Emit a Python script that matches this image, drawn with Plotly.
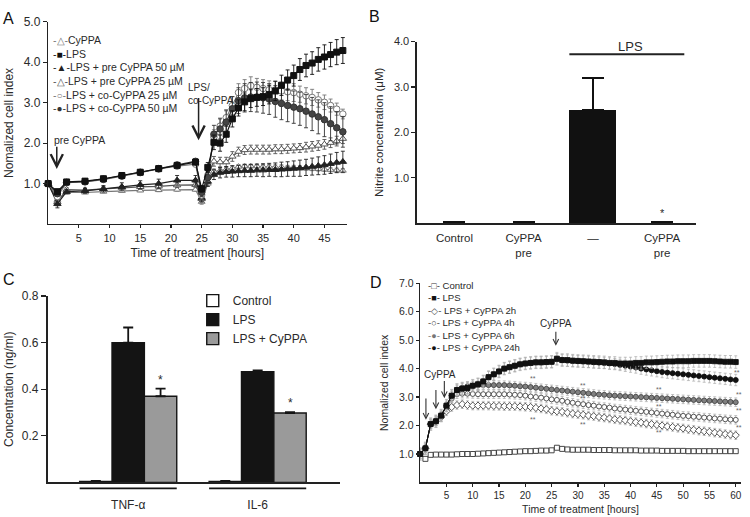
import plotly.graph_objects as go

# ======================= DATA =======================
# ---- Panel A: real-time cell index (0-48 h) ----
times_a = [0, 1.5, 3, 6, 9, 12, 15, 18, 21, 24, 25, 26, 27, 28, 29, 30, 31, 32, 33, 34,
           35, 36, 37, 38, 39, 40, 41, 42, 43, 44, 45, 46, 47, 48]
a_cyppa = [1.0, 0.6, 0.78, 0.78, 0.8, 0.82, 0.83, 0.84, 0.85, 0.85,
           0.55, 1.0, 1.3, 1.32, 1.35, 1.38, 1.42, 1.43, 1.43, 1.43,
           1.42, 1.42, 1.41, 1.41, 1.4, 1.4, 1.39, 1.38, 1.37, 1.36,
           1.35, 1.34, 1.33, 1.32]
a_lps = [1.0, 0.8, 1.04, 1.06, 1.12, 1.2, 1.28, 1.37, 1.45, 1.53,
         0.87, 1.4, 2.02, 2.0, 2.22, 2.6, 2.87, 3.02, 3.1, 3.13,
         3.15, 3.2, 3.29, 3.43, 3.56, 3.67, 3.82, 3.92, 3.98, 4.07,
         4.13, 4.19, 4.25, 4.29]
a_pre50 = [1.0, 0.5, 0.8, 0.82, 0.87, 0.92, 0.97, 1.0, 1.08, 1.08,
           0.65, 1.05, 1.22, 1.27, 1.29, 1.3, 1.31, 1.32, 1.32, 1.33,
           1.33, 1.34, 1.34, 1.35, 1.36, 1.37, 1.38, 1.4, 1.42, 1.44,
           1.46, 1.49, 1.52, 1.54]
a_pre25 = [1.0, 0.55, 0.85, 0.84, 0.87, 0.9, 0.92, 0.93, 0.96, 0.97,
           0.62, 1.2, 1.55, 1.53, 1.53, 1.67, 1.79, 1.83, 1.84, 1.84,
           1.84, 1.84, 1.85, 1.85, 1.86, 1.87, 1.88, 1.9, 1.92, 1.94,
           1.97, 2.01, 2.05, 2.11]
a_co25 = [1.0, 0.68, 1.02, 1.04, 1.1, 1.18, 1.27, 1.36, 1.43, 1.48,
          0.72, 1.2, 2.15, 2.42, 2.63, 2.93, 3.25, 3.35, 3.42, 3.38,
          3.35, 3.32, 3.31, 3.29, 3.27, 3.25, 3.21, 3.17, 3.13, 3.07,
          3.01, 2.93, 2.84, 2.72]
a_co50 = [1.0, 0.75, 1.03, 1.05, 1.11, 1.19, 1.28, 1.37, 1.46, 1.55,
          0.78, 1.15, 2.22, 2.35, 2.52, 2.85, 3.05, 3.12, 3.14, 3.14,
          3.12, 3.09, 3.03, 2.98, 2.93, 2.89, 2.85, 2.79, 2.72, 2.65,
          2.58, 2.48, 2.38, 2.28]
e_cyppa = [0.02, 0.06, 0.03, 0.03, 0.03, 0.03, 0.03, 0.04, 0.04, 0.04,
           0.06, 0.06, 0.06, 0.06, 0.06, 0.06, 0.05, 0.05, 0.05, 0.05,
           0.05, 0.05, 0.05, 0.05, 0.05, 0.05, 0.05, 0.05, 0.05, 0.05,
           0.05, 0.05, 0.05, 0.05]
e_lps = [0.02, 0.05, 0.03, 0.03, 0.04, 0.04, 0.04, 0.05, 0.05, 0.06,
         0.08, 0.12, 0.18, 0.2, 0.2, 0.2, 0.2, 0.22, 0.22, 0.22,
         0.22, 0.23, 0.24, 0.25, 0.25, 0.26, 0.27, 0.28, 0.28, 0.29,
         0.3, 0.3, 0.31, 0.32]
e_pre50 = [0.02, 0.1, 0.05, 0.06, 0.08, 0.1, 0.1, 0.11, 0.12, 0.12,
           0.1, 0.12, 0.12, 0.13, 0.13, 0.14, 0.14, 0.15, 0.15, 0.15,
           0.16, 0.16, 0.17, 0.18, 0.18, 0.19, 0.2, 0.2, 0.21, 0.22,
           0.23, 0.24, 0.25, 0.26]
e_pre25 = [0.02, 0.1, 0.05, 0.05, 0.05, 0.05, 0.06, 0.06, 0.06, 0.06,
           0.08, 0.12, 0.12, 0.12, 0.12, 0.12, 0.11, 0.11, 0.11, 0.11,
           0.11, 0.11, 0.11, 0.11, 0.11, 0.11, 0.11, 0.12, 0.12, 0.12,
           0.12, 0.12, 0.12, 0.12]
e_co25 = [0.02, 0.05, 0.03, 0.03, 0.04, 0.04, 0.04, 0.05, 0.05, 0.06,
          0.1, 0.15, 0.18, 0.2, 0.2, 0.22, 0.22, 0.22, 0.22, 0.22,
          0.22, 0.22, 0.22, 0.22, 0.22, 0.22, 0.2, 0.2, 0.2, 0.18,
          0.18, 0.16, 0.15, 0.12]
e_co50 = [0.02, 0.05, 0.03, 0.03, 0.04, 0.04, 0.04, 0.05, 0.05, 0.06,
          0.1, 0.15, 0.22, 0.25, 0.28, 0.3, 0.32, 0.35, 0.36, 0.37,
          0.38, 0.38, 0.39, 0.4, 0.4, 0.4, 0.41, 0.41, 0.41, 0.42,
          0.42, 0.42, 0.4, 0.38]
a_names = ["CyPPA", "LPS", "LPS + pre CyPPA 50 µM", "LPS + pre CyPPA 25 µM",
           "LPS + co-CyPPA 25 µM", "LPS + co-CyPPA 50 µM"]
a_xticks = [5, 10, 15, 20, 25, 30, 35, 40, 45]
a_yticks = [1, 2, 3, 4, 5]

# ---- Panel B: nitrite ----
b_categories = ["Control", "CyPPA<br>pre", "—", "CyPPA<br>pre"]
b_nitrite = [0.01, 0.01, 2.5, 0.01]
b_nitrite_err = [0.01, 0.01, 0.7, 0.01]
b_yticks = [1, 2, 3, 4]

# ---- Panel C: cytokines ----
c_cytokines = ["TNF-α", "IL-6"]
c_groups = ["Control", "LPS", "LPS + CyPPA"]
c_control = [0.004, 0.004]
c_lps = [0.60, 0.475]
c_lps_cyppa = [0.37, 0.298]
c_control_err = [0.003, 0.003]
c_lps_err = [0.065, 0.006]
c_lps_cyppa_err = [0.033, 0.004]
c_yticks = [0.2, 0.4, 0.6, 0.8]

# ---- Panel D: real-time cell index (0-60 h) ----
times_d = list(range(0, 61))
d_control = [1.0, 0.83, 0.97, 0.98, 0.98, 0.98, 0.98, 0.99, 1.0, 1.0,
             1.0, 1.01, 1.02, 1.03, 1.04, 1.05, 1.06, 1.07, 1.08, 1.09,
             1.1, 1.1, 1.11, 1.12, 1.12, 1.13, 1.22, 1.18, 1.16, 1.15,
             1.15, 1.15, 1.15, 1.14, 1.14, 1.14, 1.14, 1.13, 1.13, 1.13,
             1.13, 1.13, 1.12, 1.12, 1.12, 1.12, 1.11, 1.11, 1.11, 1.11,
             1.11, 1.1, 1.1, 1.1, 1.1, 1.1, 1.1, 1.1, 1.1, 1.1,
             1.1]
d_lps = [1.0, 1.2, 2.05, 2.15, 2.35, 2.7, 3.05, 3.25, 3.3, 3.32,
         3.4, 3.45, 3.55, 3.7, 3.8, 3.9, 4.0, 4.05, 4.1, 4.15,
         4.18, 4.2, 4.22, 4.22, 4.23, 4.24, 4.35, 4.3, 4.3, 4.28,
         4.27, 4.26, 4.25, 4.24, 4.23, 4.22, 4.2, 4.2, 4.18, 4.18,
         4.18, 4.2, 4.2, 4.22, 4.22, 4.23, 4.24, 4.25, 4.25, 4.26,
         4.26, 4.26, 4.27, 4.27, 4.27, 4.27, 4.26, 4.25, 4.24, 4.24,
         4.23]
d_2h = [1.0, 1.2, 2.05, 2.15, 2.3, 2.5, 2.65, 2.72, 2.75, 2.72,
        2.7, 2.7, 2.7, 2.7, 2.69, 2.69, 2.68, 2.68, 2.68, 2.67,
        2.66, 2.65, 2.62, 2.6, 2.57, 2.52, 2.5, 2.48, 2.45, 2.42,
        2.4, 2.38, 2.35, 2.33, 2.3, 2.28, 2.25, 2.22, 2.2, 2.18,
        2.15, 2.12, 2.1, 2.07, 2.05, 2.02, 2.0, 1.97, 1.95, 1.92,
        1.9, 1.87, 1.85, 1.82, 1.8, 1.78, 1.75, 1.73, 1.7, 1.68,
        1.66]
d_4h = [1.0, 1.2, 2.05, 2.15, 2.35, 2.65, 2.95, 3.1, 3.12, 3.12,
        3.11, 3.1, 3.1, 3.1, 3.1, 3.1, 3.1, 3.09, 3.08, 3.07,
        3.05, 3.02, 3.0, 2.98, 2.95, 2.92, 2.9, 2.87, 2.83, 2.8,
        2.77, 2.75, 2.72, 2.7, 2.67, 2.65, 2.63, 2.6, 2.58, 2.56,
        2.54, 2.52, 2.5, 2.48, 2.46, 2.44, 2.42, 2.4, 2.38, 2.36,
        2.34, 2.33, 2.31, 2.3, 2.28, 2.27, 2.25, 2.24, 2.22, 2.21,
        2.2]
d_6h = [1.0, 1.2, 2.05, 2.15, 2.35, 2.7, 3.05, 3.25, 3.32, 3.38,
        3.4, 3.42, 3.42, 3.42, 3.42, 3.42, 3.42, 3.41, 3.4, 3.38,
        3.37, 3.35, 3.33, 3.31, 3.29, 3.27, 3.25, 3.23, 3.21, 3.19,
        3.17, 3.15, 3.13, 3.11, 3.09, 3.08, 3.06, 3.05, 3.04, 3.03,
        3.02, 3.01, 3.0, 2.99, 2.98, 2.97, 2.96, 2.95, 2.94, 2.93,
        2.92, 2.91, 2.9, 2.89, 2.88, 2.87, 2.86, 2.85, 2.84, 2.83,
        2.82]
d_24h = [1.0, 1.2, 2.05, 2.15, 2.35, 2.7, 3.05, 3.25, 3.3, 3.32,
         3.4, 3.45, 3.55, 3.7, 3.8, 3.9, 4.0, 4.05, 4.1, 4.15,
         4.18, 4.2, 4.22, 4.22, 4.23, 4.24, 4.33, 4.3, 4.28, 4.27,
         4.26, 4.25, 4.24, 4.22, 4.21, 4.2, 4.18, 4.16, 4.13, 4.1,
         4.07, 4.04, 4.0, 3.97, 3.94, 3.91, 3.88, 3.86, 3.84, 3.82,
         3.8, 3.78, 3.76, 3.74, 3.72, 3.7, 3.68, 3.66, 3.64, 3.62,
         3.6]
d_err_control = 0.03
d_err_lps = 0.22
d_err_2h = 0.15
d_err_4h = 0.15
d_err_6h = 0.15
d_err_24h = 0.2
d_names = ["Control", "LPS", "LPS + CyPPA 2h", "LPS + CyPPA 4h",
           "LPS + CyPPA 6h", "LPS + CyPPA 24h"]
d_xticks = [5, 10, 15, 20, 25, 30, 35, 40, 45, 50, 55, 60]
d_yticks = [1, 2, 3, 4, 5, 6, 7]

# ======================= STYLE / LAYOUT HELPERS =======================
W, H = 750, 517
FONT = "Arial, Liberation Sans, Helvetica, sans-serif"
TXT = "#2a2a2a"


def px_x(p):
    return p / W


def px_y(p):
    return 1 - p / H


def axis(**kw):
    base = dict(showline=True, linecolor="#222", linewidth=1.4, ticks="outside",
                ticklen=4, tickwidth=1.2, tickcolor="#222", showgrid=False,
                zeroline=False, fixedrange=True,
                tickfont=dict(size=11, color=TXT, family=FONT))
    base.update(kw)
    return base


fig = go.Figure()

# ---------------- Panel A traces ----------------
a_series = [
    (a_names[0], a_cyppa, e_cyppa, "triangle-up", "white", "#777", 6),
    (a_names[3], a_pre25, e_pre25, "triangle-up", "white", "#555", 6.5),
    (a_names[2], a_pre50, e_pre50, "triangle-up", "#222", "#222", 6.5),
    (a_names[4], a_co25, e_co25, "circle", "white", "#777", 6.5),
    (a_names[5], a_co50, e_co50, "circle", "#444", "#333", 6.5),
    (a_names[1], a_lps, e_lps, "square", "#111", "#111", 6),
]
for name, ys, es, sym, fill, col, size in a_series:
    fig.add_trace(go.Scatter(
        x=times_a, y=ys, name=name, mode="lines+markers", xaxis="x", yaxis="y",
        line=dict(color=col, width=1.2),
        marker=dict(symbol=sym, size=size, color=fill, line=dict(color=col, width=1)),
        error_y=dict(type="data", array=es, color=col, thickness=0.9, width=2),
        cliponaxis=False, showlegend=False))

# ---------------- Panel B traces ----------------
b_pos = list(range(len(b_categories)))
fig.add_trace(go.Bar(
    x=b_pos, y=b_nitrite, width=0.68, xaxis="x2", yaxis="y2", name="Nitrite",
    marker=dict(color="#111", line=dict(width=0)),
    error_y=dict(type="data", array=b_nitrite_err, arrayminus=[0] * len(b_pos),
                 symmetric=False, color="#111", thickness=1.6, width=11),
    showlegend=False))

# ---------------- Panel C traces ----------------
c_series = [
    (c_groups[0], c_control, c_control_err, "white"),
    (c_groups[1], c_lps, c_lps_err, "#141414"),
    (c_groups[2], c_lps_cyppa, c_lps_cyppa_err, "#9a9a9a"),
]
for i, (name, vals, errs, fill) in enumerate(c_series):
    xs = [g * 4 + i for g in range(len(c_cytokines))]
    fig.add_trace(go.Bar(
        x=xs, y=vals, width=1.0, name=name, xaxis="x3", yaxis="y3",
        marker=dict(color=fill, line=dict(color="#141414", width=1.4)),
        error_y=dict(type="data", array=errs, arrayminus=[0] * len(vals),
                     symmetric=False, color="#141414", thickness=1.8, width=5),
        showlegend=True, legend="legend"))

# ---------------- Panel D traces ----------------
d_series = [
    (d_names[0], d_control, d_err_control, "square", "white", "#333", 5),
    (d_names[2], d_2h, d_err_2h, "diamond", "white", "#444", 5.5),
    (d_names[3], d_4h, d_err_4h, "circle", "white", "#444", 5),
    (d_names[4], d_6h, d_err_6h, "circle", "#808080", "#444", 5),
    (d_names[5], d_24h, d_err_24h, "circle", "#111", "#111", 5),
    (d_names[1], d_lps, d_err_lps, "square", "#111", "#111", 5),
]
for name, ys, err, sym, fill, col, size in d_series:
    fig.add_trace(go.Scatter(
        x=times_d, y=ys, name=name, mode="lines+markers", xaxis="x4", yaxis="y4",
        line=dict(color=col, width=1),
        marker=dict(symbol=sym, size=size, color=fill, line=dict(color=col, width=0.9)),
        error_y=dict(type="constant", value=err, color="#aaaaaa", thickness=0.7, width=1.5),
        cliponaxis=False, showlegend=False))

# ======================= ANNOTATIONS =======================
ann = []


def letter(t, x, y):
    ann.append(dict(text=t, x=px_x(x), y=px_y(y), xref="paper", yref="paper",
                    xanchor="center", yanchor="middle", showarrow=False,
                    font=dict(size=16, color="#111", family=FONT)))


letter("A", 9, 12)
letter("B", 375, 10)
letter("C", 9, 276)
letter("D", 377, 279)

# --- Panel A in-plot legend (text) ---
a_glyph = {a_names[0]: ("△", "#777"), a_names[1]: ("■", "#111"),
           a_names[2]: ("▲", "#222"), a_names[3]: ("△", "#555"),
           a_names[4]: ("○", "#777"), a_names[5]: ("●", "#333")}
a_leg = "<br>".join(
    f'<span style="color:{a_glyph[n][1]}">-<span style="font-size:10px">{a_glyph[n][0]}</span>-</span>{n}'
    for n in a_names)
ann.append(dict(text=a_leg, x=px_x(51), y=px_y(25), xref="paper", yref="paper",
                xanchor="left", yanchor="top", align="left", showarrow=False,
                font=dict(size=10.5, color=TXT, family=FONT)))

# --- Panel A arrows + labels ---
ann.append(dict(text="pre CyPPA", x=0.6, y=2.07, xref="x", yref="y", xanchor="left",
                yanchor="middle", showarrow=False, font=dict(size=10.5, color=TXT, family=FONT)))
ann.append(dict(text="", x=1.4, y=1.36, ax=1.4, ay=1.95, xref="x", yref="y",
                axref="x", ayref="y", showarrow=True, arrowhead=5, arrowsize=1.6,
                arrowwidth=1.5, arrowcolor="#222"))
ann.append(dict(text="LPS/<br>co-CyPPA", x=22.5, y=3.57, xref="x", yref="y",
                xanchor="left", yanchor="top", align="left", showarrow=False,
                font=dict(size=10, color=TXT, family=FONT)))
ann.append(dict(text="", x=24.5, y=2.07, ax=24.5, ay=3.15, xref="x", yref="y",
                axref="x", ayref="y", showarrow=True, arrowhead=5, arrowsize=1.6,
                arrowwidth=1.5, arrowcolor="#222"))
for ys in (a_co25, a_co50, a_pre25, a_pre50, a_cyppa):
    ann.append(dict(text="**", x=49.1, y=ys[-1], xref="x", yref="y", xanchor="left",
                    yanchor="middle", showarrow=False,
                    font=dict(size=8, color="#555", family=FONT)))

# --- Panel B annotations ---
ann.append(dict(text="LPS", x=2.55, y=3.9, xref="x2", yref="y2", showarrow=False,
                yanchor="middle", font=dict(size=13, color=TXT, family=FONT)))
ann.append(dict(text="*", x=3, y=b_nitrite[3] + 0.22, xref="x2", yref="y2",
                showarrow=False, font=dict(size=11, color=TXT, family=FONT)))

# --- Panel C annotations ---
ann.append(dict(text="*", x=2, y=c_lps_cyppa[0] + c_lps_cyppa_err[0] + 0.035,
                xref="x3", yref="y3", showarrow=False,
                font=dict(size=12, color=TXT, family=FONT)))
ann.append(dict(text="*", x=6, y=c_lps_cyppa[1] + c_lps_cyppa_err[1] + 0.04,
                xref="x3", yref="y3", showarrow=False,
                font=dict(size=12, color=TXT, family=FONT)))

# --- Panel D in-plot legend (text) ---
d_glyph = {d_names[0]: ("□", "#333"), d_names[1]: ("■", "#111"),
           d_names[2]: ("◇", "#444"), d_names[3]: ("○", "#444"),
           d_names[4]: ("●", "#777"), d_names[5]: ("●", "#111")}
d_leg = "<br>".join(
    f'<span style="color:{d_glyph[n][1]}">-<span style="font-size:9px">{d_glyph[n][0]}</span>-</span> {n}'
    for n in d_names)
ann.append(dict(text=d_leg, x=px_x(427), y=px_y(275), xref="paper", yref="paper",
                xanchor="left", yanchor="top", align="left", showarrow=False,
                font=dict(size=9.6, color=TXT, family=FONT)))

# --- Panel D arrows + labels ---
ann.append(dict(text="CyPPA", x=3.8, y=3.8, xref="x4", yref="y4", showarrow=False,
                font=dict(size=10, color=TXT, family=FONT)))
ann.append(dict(text="CyPPA", x=25.8, y=5.57, xref="x4", yref="y4", showarrow=False,
                font=dict(size=10, color=TXT, family=FONT)))
for (xa, y0, y1) in [(1.1, 3.0, 2.2), (3.0, 3.3, 2.57), (4.6, 3.62, 2.96), (25.8, 5.35, 4.8)]:
    ann.append(dict(text="", x=xa, y=y1, ax=xa, ay=y0, xref="x4", yref="y4",
                    axref="x4", ayref="y4", showarrow=True, arrowhead=5,
                    arrowsize=1.0, arrowwidth=1.1, arrowcolor="#333"))
for (xs, ys) in [(21.5, 3.66), (21.5, 2.21), (31, 3.41), (31, 2.95), (31, 2.05),
                 (45.4, 3.28), (45.4, 2.67), (45.4, 1.74),
                 (60.3, 3.88), (60.6, 3.09), (60.6, 2.52), (60.6, 1.94)]:
    ann.append(dict(text="**", x=xs, y=ys, xref="x4", yref="y4", showarrow=False,
                    font=dict(size=7, color="#666", family=FONT)))

# ======================= SHAPES =======================
shapes = [
    # LPS bracket in B
    dict(type="line", xref="x2", yref="y2", x0=1.66, x1=3.32, y0=3.72, y1=3.72,
         line=dict(color="#222", width=2)),
]
for g in range(len(c_cytokines)):
    shapes.append(dict(type="line", xref="x3", yref="paper", x0=g * 4 - 0.5,
                       x1=g * 4 + 2.5, y0=px_y(488), y1=px_y(488),
                       line=dict(color="#141414", width=1.6)))

# ======================= LAYOUT =======================
fig.update_layout(
    width=W, height=H, margin=dict(l=0, r=0, t=0, b=0),
    paper_bgcolor="white", plot_bgcolor="white",
    font=dict(family=FONT, color=TXT),
    bargap=0,
    annotations=ann, shapes=shapes,
    legend=dict(x=px_x(193), y=px_y(283), xanchor="left", yanchor="top",
                bgcolor="rgba(0,0,0,0)", font=dict(size=12, color=TXT, family=FONT),
                itemwidth=30, tracegroupgap=0),
    # Panel A
    xaxis=axis(domain=[px_x(48.25), px_x(347)], range=[0, 48.6], anchor="y",
               tickvals=a_xticks, ticklen=3,
               title=dict(text="Time of treatment [hours]", standoff=6,
                          font=dict(size=12, color=TXT, family=FONT))),
    yaxis=axis(domain=[px_y(220), px_y(15)], range=[0, 5], anchor="x",
               tickvals=a_yticks, tickformat=".1f",
               tickfont=dict(size=12, color=TXT, family=FONT),
               title=dict(text="Nomalized cell index", standoff=7,
                          font=dict(size=12, color=TXT, family=FONT))),
    # Panel B
    xaxis2=axis(domain=[px_x(418), px_x(697)], range=[-0.534, 3.49], anchor="y2",
                tickvals=b_pos, ticktext=b_categories, ticks="outside", ticklen=3,
                tickcolor="rgba(0,0,0,0)", linewidth=2,
                tickfont=dict(size=11.5, color=TXT, family=FONT)),
    yaxis2=axis(domain=[px_y(219), px_y(35)], range=[0, 4], anchor="x2",
                tickvals=b_yticks, tickformat=".1f", linewidth=2, ticklen=4,
                tickfont=dict(size=11, color=TXT, family=FONT),
                title=dict(text="Nitrite concentration (μM)", standoff=8,
                           font=dict(size=11.5, color=TXT, family=FONT))),
    # Panel C
    xaxis3=axis(domain=[px_x(48), px_x(340)], range=[-1.48, 7.53], anchor="y3",
                tickvals=[g * 4 + 1 for g in range(len(c_cytokines))],
                ticktext=c_cytokines, ticks="outside", ticklen=10,
                tickcolor="rgba(0,0,0,0)", linewidth=2,
                tickfont=dict(size=12, color=TXT, family=FONT)),
    yaxis3=axis(domain=[px_y(482), px_y(293)], range=[0, 0.8], anchor="x3",
                tickvals=c_yticks, tickformat=".1f", linewidth=2, ticklen=5,
                tickfont=dict(size=12, color=TXT, family=FONT),
                title=dict(text="Concentration (ng/ml)", standoff=6,
                           font=dict(size=12, color=TXT, family=FONT))),
    # Panel D
    xaxis4=axis(domain=[px_x(420.7), px_x(742)], range=[0, 61], anchor="y4",
                tickvals=d_xticks, ticklen=3,
                tickfont=dict(size=10, color=TXT, family=FONT),
                title=dict(text="Time of treatment [hours]", standoff=5,
                           font=dict(size=10.5, color=TXT, family=FONT))),
    yaxis4=axis(domain=[px_y(482), px_y(280)], range=[0, 7], anchor="x4",
                tickvals=d_yticks, tickformat=".1f", ticklen=3,
                tickfont=dict(size=10.5, color=TXT, family=FONT),
                title=dict(text="Nomalized cell index", standoff=8,
                           font=dict(size=10.5, color=TXT, family=FONT))),
)

# The page's default body margin would shift the figure by 8 px; remove it.
fig.write_html("out.html",
               config={"displayModeBar": False, "staticPlot": True},
               post_script="document.body.style.margin='0px';"
                           "document.body.style.overflow='hidden';")
